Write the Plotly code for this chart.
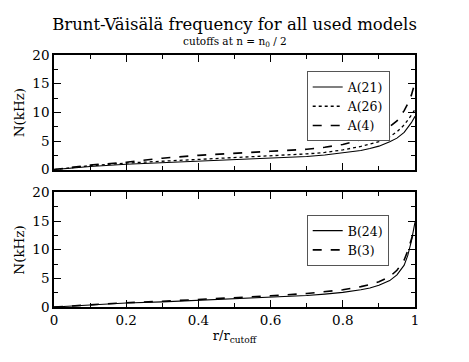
import plotly.graph_objects as go
from plotly.subplots import make_subplots

# r / r_cutoff sample points
r = [0, 0.05, 0.1, 0.2, 0.3, 0.4, 0.5, 0.6, 0.7, 0.75, 0.8, 0.85, 0.875,
     0.9, 0.93, 0.95, 0.97, 0.98, 0.99, 1.0]

# top panel, N in kHz
a21 = [0, 0.3, 0.55, 0.95, 1.2, 1.45, 1.7, 1.95, 2.3, 2.55, 2.9, 3.35, 3.7,
       4.1, 4.85, 5.5, 6.5, 7.3, 8.2, 9.3]
a26 = [0, 0.35, 0.7, 1.15, 1.45, 1.75, 2.05, 2.35, 2.75, 3.0, 3.45, 4.05, 4.5,
       4.9, 5.75, 6.6, 7.8, 8.6, 9.5, 10.5]
a4 = [0, 0.4, 0.8, 1.3, 2.0, 2.5, 2.9, 3.2, 3.55, 3.9, 4.4, 5.2, 5.8,
      6.5, 7.5, 8.5, 10.3, 11.5, 13.0, 15.2]

# bottom panel
b24 = [0, 0.2, 0.4, 0.7, 0.9, 1.15, 1.4, 1.65, 2.0, 2.25, 2.55, 3.0, 3.3,
       3.8, 4.6, 5.6, 7.3, 9.0, 11.5, 14.8]
b3 = [0, 0.2, 0.45, 0.75, 1.0, 1.3, 1.6, 1.95, 2.35, 2.65, 3.0, 3.55, 3.9,
      4.4, 5.3, 6.4, 8.2, 9.8, 11.8, 13.8]

serif = "DejaVu Serif"

fig = make_subplots(rows=2, cols=1, vertical_spacing=0.09)

fig.add_trace(go.Scatter(x=r, y=a21, name="A(21)", mode="lines",
                         line=dict(color="black", width=1.1), legend="legend"), row=1, col=1)
fig.add_trace(go.Scatter(x=r, y=a26, name="A(26)", mode="lines",
                         line=dict(color="black", width=1.3, dash="dot"), legend="legend"), row=1, col=1)
fig.add_trace(go.Scatter(x=r, y=a4, name="A(4)", mode="lines",
                         line=dict(color="black", width=1.6, dash="dash"), legend="legend"), row=1, col=1)
fig.add_trace(go.Scatter(x=r, y=b24, name="B(24)", mode="lines",
                         line=dict(color="black", width=1.1), legend="legend2"), row=2, col=1)
fig.add_trace(go.Scatter(x=r, y=b3, name="B(3)", mode="lines",
                         line=dict(color="black", width=1.6, dash="dash"), legend="legend2"), row=2, col=1)

ax = dict(showline=True, linecolor="black", linewidth=1.5, mirror="allticks",
          ticks="inside", ticklen=7, tickcolor="black", showgrid=False, zeroline=False,
          automargin=False, tickfont=dict(family=serif, size=13.5, color="black"))

fig.update_xaxes(**ax, range=[0, 1], dtick=0.2,
                 minor=dict(ticks="inside", dtick=0.1, ticklen=4, tickcolor="black"))
fig.update_xaxes(showticklabels=False, row=1, col=1)
fig.update_xaxes(tickvals=[0, 0.2, 0.4, 0.6, 0.8, 1], ticktext=["0", "0.2", "0.4", "0.6", "0.8", "1"],
                 title=dict(text="r/r<sub>cutoff</sub>", font=dict(family=serif, size=13, color="black"),
                            standoff=4), row=2, col=1)
fig.update_yaxes(**ax, range=[0, 20], dtick=5,
                 minor=dict(ticks="inside", dtick=2.5, ticklen=4, tickcolor="black"))

leg = dict(bgcolor="white", bordercolor="#555555", borderwidth=1,
           font=dict(family=serif, size=12.5, color="black"),
           itemwidth=30, tracegroupgap=0, xanchor="left", yanchor="top")

ytitle = dict(text="N(kHz)", xref="paper", x=-0.097, xanchor="center", y=0.5,
              yanchor="middle", textangle=-90, showarrow=False,
              font=dict(family=serif, size=13.5, color="black"))

fig.update_layout(
    width=469, height=362,
    margin=dict(l=54, r=54, t=55, b=55, autoexpand=False),
    paper_bgcolor="white", plot_bgcolor="white",
    font=dict(family=serif, color="black"),
    title=dict(text="Brunt-Väisälä frequency for all used models",
               font=dict(family=serif, size=16.5, color="black"),
               x=0.5, xanchor="center", y=1 - 24 / 362, yanchor="middle"),
    legend=dict(**leg, x=0.70, y=0.935),
    legend2=dict(**leg, x=0.70, y=0.365),
    annotations=[
        dict(text="cutoffs at n = n<sub>0</sub> / 2", xref="paper", yref="paper",
             x=0.5, y=1.05, xanchor="center", yanchor="middle", showarrow=False,
             font=dict(family=serif, size=10.5, color="black")),
        dict(ytitle, yref="y domain"),
        dict(ytitle, yref="y2 domain"),
    ],
)

fig.write_html("out.html", config={"displayModeBar": False},
               post_script="document.body.style.margin='0';")
